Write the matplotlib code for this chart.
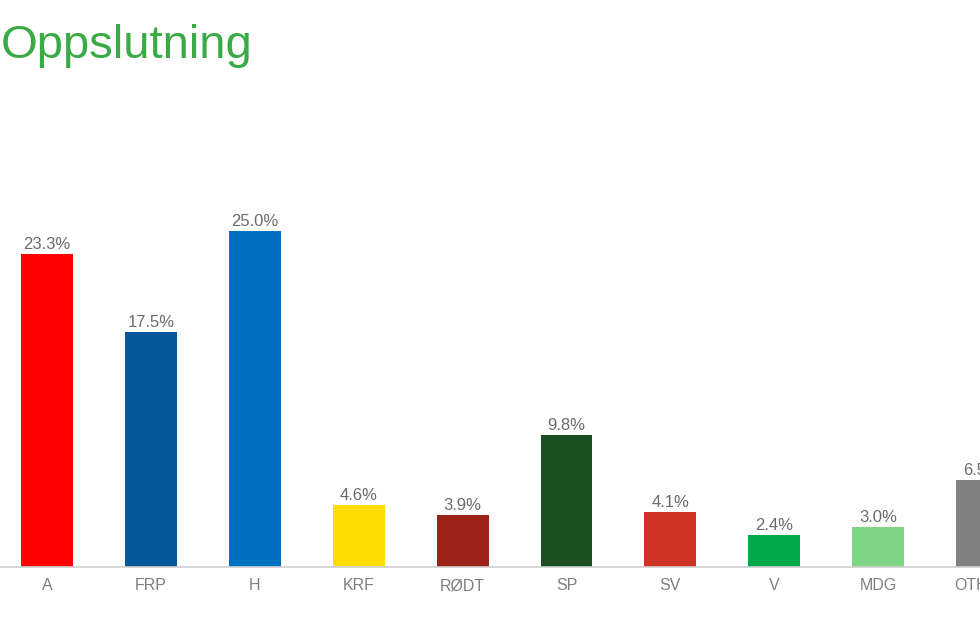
import matplotlib
matplotlib.use("Agg")
import matplotlib.pyplot as plt

plt.rcParams['font.family'] = ['Liberation Sans', 'DejaVu Sans']

parties = ["A", "FRP", "H", "KRF", "RØDT", "SP", "SV", "V", "MDG", "OTHER"]
support = [23.3, 17.5, 25.0, 4.6, 3.9, 9.8, 4.1, 2.4, 3.0, 6.5]
colors = ["#FF0000", "#02589B", "#0070C0", "#FFDD00", "#9B2318",
          "#1B4F22", "#CF3325", "#00AA4B", "#7FD685", "#808080"]

W, H = 980, 641
fig = plt.figure(figsize=(W / 100, H / 100), dpi=100)

# the original chart is wider than the picture, so the axes runs past the right edge
step = 103.9
left_px = 47 - step / 2
ax = fig.add_axes([left_px / W, (H - 567) / H, 10 * step / W, 403 / H])

x = range(len(parties))
ax.bar(x, support, width=0.5, color=colors)
for i, v in enumerate(support):
    ax.annotate(f"{v:.1f}%", xy=(i, v), xytext=(0, 1.5), textcoords="offset points",
                ha="center", va="bottom", fontsize=12, color="#6b6b6b")

ax.set_xlim(-0.5, len(parties) - 0.5)
ax.set_ylim(0, 30)
ax.set_xticks(list(x))
ax.set_xticklabels(parties, fontsize=11.5, color="#7f7f7f")
ax.tick_params(axis="x", length=0, pad=8)
ax.set_yticks([])
for side in ["top", "right", "left"]:
    ax.spines[side].set_visible(False)
ax.spines["bottom"].set_color("#d0d0d0")
ax.spines["bottom"].set_linewidth(1.2)

fig.text(1 / W, 1 - 46 / H, "Oppslutning", fontsize=34, color="#3AAA45",
         ha="left", va="center")

fig.savefig("out.png", dpi=100)
